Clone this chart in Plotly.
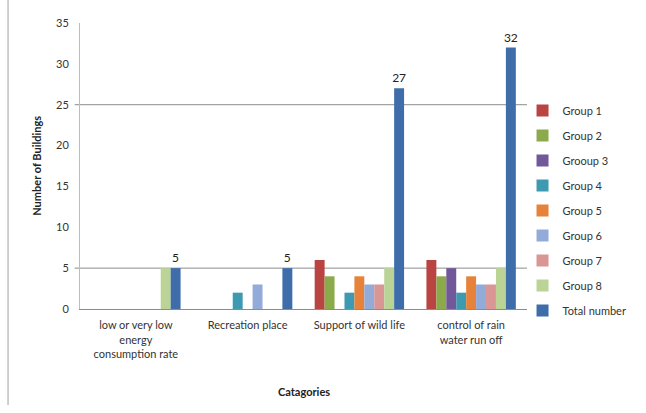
import plotly.graph_objects as go

categories = [
    "low or very low<br>energy<br>consumption rate",
    "Recreation place",
    "Support of wild life",
    "control of rain<br>water run off",
]

series_names = ["Group 1", "Group 2", "Grooup 3", "Group 4", "Group 5",
                "Group 6", "Group 7", "Group 8", "Total number"]

group1 = [0, 0, 6, 6]
group2 = [0, 0, 4, 4]
group3 = [0, 0, 0, 5]
group4 = [0, 2, 2, 2]
group5 = [0, 0, 4, 4]
group6 = [0, 3, 3, 3]
group7 = [0, 0, 3, 3]
group8 = [5, 0, 5, 5]
total = [5, 5, 27, 32]

series_values = [group1, group2, group3, group4, group5,
                 group6, group7, group8, total]

colors = ["#B94441", "#8BAA4A", "#71589A", "#3E9AB0", "#E6823A",
          "#93ABD8", "#D99694", "#BBD496", "#3E6DAA"]

font_family = "Lato, 'Open Sans', sans-serif"

fig = go.Figure()
for i, (name, vals, col) in enumerate(zip(series_names, series_values, colors)):
    is_total = name == "Total number"
    fig.add_trace(go.Bar(
        x=categories,
        y=vals,
        name=name,
        legendgroup=f"g{i}",
        marker=dict(color=col, line=dict(width=0)),
        text=[str(v) for v in vals] if is_total else None,
        textposition="outside" if is_total else "none",
        constraintext="none",
        textfont=dict(size=12, color="#222222", family=font_family),
        cliponaxis=False,
    ))

# Horizontal reference lines across the plot area
for yv in [5, 25]:
    fig.add_shape(type="line", xref="paper", yref="y", x0=-0.012, x1=1,
                  y0=yv, y1=yv, line=dict(color="#8C8C8C", width=1), layer="below")

# Outer chart border on the left
fig.add_shape(type="line", xref="paper", yref="paper", x0=-0.161, x1=-0.161,
              y0=1.08, y1=-0.336, line=dict(color="#A0A0A0", width=1))

fig.add_annotation(text="<b>Number of Buildings</b>", xref="paper", yref="paper",
                   x=-0.118, y=0.5, textangle=-90, showarrow=False,
                   font=dict(size=11, color="#222222", family=font_family))
fig.add_annotation(text="<b>Catagories</b>", xref="paper", yref="paper",
                   x=0.5, y=-0.29, showarrow=False, yanchor="middle",
                   font=dict(size=11, color="#222222", family=font_family))

fig.update_layout(
    width=646, height=413,
    margin=dict(l=80, r=119, t=23, b=104, autoexpand=False),
    paper_bgcolor="white", plot_bgcolor="white",
    barmode="group", bargap=0.2, bargroupgap=0,
    font=dict(family=font_family, size=11, color="#333333"),
    showlegend=True,
    legend=dict(x=0.99, y=0.745, xanchor="left", yanchor="top",
                tracegroupgap=6, font=dict(size=11, color="#333333"),
                bgcolor="rgba(0,0,0,0)"),
    xaxis=dict(showline=True, linecolor="#8C8C8C", linewidth=1,
               ticks="", tickfont=dict(size=11, color="#333333"),
               ticklabelstandoff=6,
               showgrid=False, zeroline=False),
    yaxis=dict(range=[0, 35], dtick=5, showline=True, linecolor="#BDBDBD",
               linewidth=1, showgrid=False, zeroline=False, ticks="",
               ticklabelstandoff=8,
               tickfont=dict(size=11, color="#333333")),
)

fig.write_html("out.html")
